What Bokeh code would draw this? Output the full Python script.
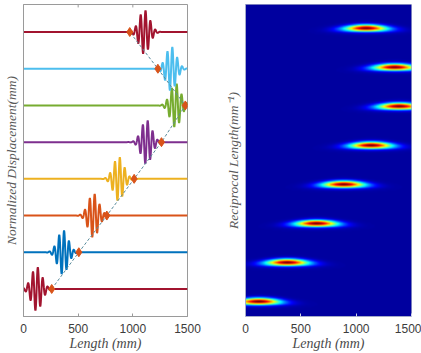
import numpy as np
from bokeh.plotting import figure
from bokeh.layouts import row
from bokeh.models import FixedTicker, LinearColorMapper, Range1d
from bokeh.embed import file_html
from bokeh.resources import INLINE

# ---- data -------------------------------------------------------------
length_ticks = [0, 500, 1000, 1500]

# left panel: one displacement trace per time step, offset vertically
trace_level = [1, 2, 3, 4, 5, 6, 7, 8]
packet_center = [120, 360, 640, 870, 1125, 1390, 1350, 1105]      # mm
front_position = [258, 506, 762, 1012, 1262, 1480, 1229, 972]     # mm
trace_color = ["#A2142F", "#0072BD", "#D95319", "#EDB120",
               "#7E2F8E", "#77AC30", "#4DBEEE", "#A2142F"]
packet_amplitude = 0.6
packet_wavelength = 45.0   # mm
packet_spread = 48.0       # mm

# right panel: scalogram peaks, one row per time step
spectrum_level = [1, 2, 3, 4, 5, 6, 7, 8]
spectrum_peak = [120, 377, 642, 888, 1136, 1389, 1349, 1090]      # mm
spectrum_spread_x = 135.0   # mm
spectrum_spread_y = 0.06

# ---- styling helpers --------------------------------------------------
AXIS_GREY = "#9a9a9a"
TEXT_GREY = "#3c3c3c"
LABEL_GREY = "#4a4a4a"


def style_x_axis(ax, line_color, tick_color):
    ax.ticker = FixedTicker(ticks=length_ticks)
    ax.axis_line_color = line_color
    ax.major_tick_line_color = tick_color
    ax.major_tick_in = 3
    ax.major_tick_out = 0
    ax.minor_tick_line_color = None
    ax.major_label_text_font = "Liberation Sans"
    ax.major_label_text_font_size = "12px"
    ax.major_label_text_color = TEXT_GREY
    ax.major_label_standoff = 7
    ax.axis_label = "Length (mm)"
    ax.axis_label_text_font = "Liberation Serif"
    ax.axis_label_text_font_style = "italic"
    ax.axis_label_text_font_size = "14px"
    ax.axis_label_text_color = LABEL_GREY
    ax.axis_label_standoff = 0


def style_y_axis(ax, label, line_color):
    ax.ticker = FixedTicker(ticks=[])
    ax.axis_line_color = line_color
    ax.major_tick_line_color = None
    ax.minor_tick_line_color = None
    ax.major_label_standoff = 0
    ax.axis_label = label
    ax.axis_label_text_font = "Liberation Serif"
    ax.axis_label_text_font_style = "italic"
    ax.axis_label_text_font_size = "13.5px"
    ax.axis_label_text_color = "#595959"
    ax.axis_label_standoff = 5


# ---- left panel: wave packets ----------------------------------------
y_lo, y_hi = 0.25, 8.75
left = figure(width=216, height=353, x_range=Range1d(0, 1500),
              y_range=Range1d(y_lo, y_hi), output_backend="svg",
              toolbar_location=None, min_border_left=21, min_border_right=29,
              min_border_top=4, min_border_bottom=36)
left.grid.visible = False
left.outline_line_color = AXIS_GREY
left.background_fill_color = "white"
left.border_fill_color = "white"

x = np.linspace(0, 1500, 1501)
for lvl, c, col in zip(trace_level, packet_center, trace_color):
    u = x - c
    y = lvl + packet_amplitude * np.exp(-0.5 * (u / packet_spread) ** 2) \
        * np.sin(2 * np.pi * u / packet_wavelength)
    left.line(x, y, line_color=col, line_width=2)

left.line(front_position, trace_level, line_color="#5a8c9c",
          line_width=1, line_dash="3 2")
left.scatter(front_position, trace_level, marker="diamond", size=9,
             fill_color="#D95319", line_color="#D95319")

# inward tick marks along the top edge of the box
tick_len = 0.08
left.segment(x0=length_ticks, y0=[y_hi] * len(length_ticks),
             x1=length_ticks, y1=[y_hi - tick_len] * len(length_ticks),
             line_color=AXIS_GREY, line_width=1)

style_x_axis(left.xaxis[0], AXIS_GREY, AXIS_GREY)
style_y_axis(left.yaxis[0], "Normalized Displacement(mm)", AXIS_GREY)

# ---- right panel: scalogram image ------------------------------------
y0, y1 = 0.62, 8.6
right = figure(width=205, height=353, x_range=Range1d(0, 1500),
               y_range=Range1d(y0, y1), output_backend="svg",
               toolbar_location=None, min_border_left=29, min_border_right=10,
               min_border_top=4, min_border_bottom=36)
right.grid.visible = False
right.outline_line_color = "#a4aacb"
right.border_fill_color = "white"

gx = np.linspace(0, 1500, 600)
gy = np.linspace(y0, y1, 800)
GX, GY = np.meshgrid(gx, gy)
img = np.zeros_like(GX)
for lvl, c in zip(spectrum_level, spectrum_peak):
    dy = GY - lvl
    sx = spectrum_spread_x * np.clip(1.0 - 2.0 * dy, 0.4, 2.0)
    img += np.exp(-0.5 * ((GX - c) / sx) ** 2) * np.exp(-0.5 * (dy / spectrum_spread_y) ** 2)

# jet colour map
t = np.linspace(0, 1, 256)
r = np.clip(1.5 - np.abs(4 * t - 3), 0, 1)
g = np.clip(1.5 - np.abs(4 * t - 2), 0, 1)
b = np.clip(1.5 - np.abs(4 * t - 1), 0, 1)
jet = ["#%02x%02x%02x" % (int(rr * 255), int(gg * 255), int(bb * 255))
       for rr, gg, bb in zip(r, g, b)]
mapper = LinearColorMapper(palette=jet, low=-0.035, high=1.0)
right.image(image=[img], x=0, y=y0, dw=1500, dh=y1 - y0, color_mapper=mapper)

style_x_axis(right.xaxis[0], "#a4aacb", "#d0d4e8")
style_y_axis(right.yaxis[0], "Reciprocal Length(mm\u207b\u00b9)", "#a4aacb")

layout = row(left, right)
open("out.html", "w").write(file_html(layout, INLINE))
